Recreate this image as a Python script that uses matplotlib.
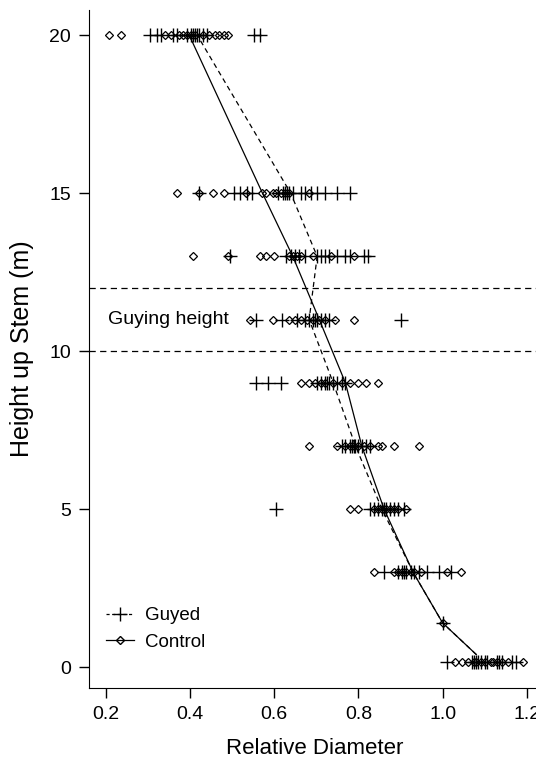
import matplotlib
matplotlib.use("Agg")
import matplotlib.pyplot as plt
from matplotlib.lines import Line2D

plt.rcParams['font.family'] = ['Liberation Sans', 'DejaVu Sans']

# measured heights (m) for the point rows
heights = [0.15, 1.4, 3, 5, 7, 9, 11, 13, 15, 20]

guyed_pts = {
    20: [0.306, 0.321, 0.33, 0.359, 0.369, 0.393, 0.403, 0.407, 0.412, 0.417, 0.422, 0.432, 0.441, 0.552, 0.567],
    15: [0.422, 0.505, 0.518, 0.536, 0.547, 0.61, 0.62, 0.625, 0.63, 0.634, 0.644, 0.663, 0.673, 0.687, 0.702, 0.721, 0.75, 0.779],
    13: [0.494, 0.627, 0.639, 0.649, 0.658, 0.673, 0.702, 0.711, 0.721, 0.731, 0.75, 0.769, 0.779, 0.813, 0.822],
    11: [0.557, 0.618, 0.654, 0.673, 0.683, 0.692, 0.697, 0.702, 0.711, 0.721, 0.731, 0.90],
    9: [0.557, 0.586, 0.615, 0.702, 0.711, 0.721, 0.726, 0.731, 0.74, 0.75, 0.76, 0.769],
    7: [0.76, 0.769, 0.779, 0.784, 0.789, 0.793, 0.798, 0.808, 0.818, 0.827],
    5: [0.605, 0.827, 0.837, 0.847, 0.856, 0.861, 0.866, 0.876, 0.885, 0.895, 0.909],
    3: [0.861, 0.895, 0.904, 0.909, 0.914, 0.924, 0.933, 0.943, 0.962, 0.991, 1.02],
    1.4: [1.0],
    0.15: [1.01, 1.07, 1.075, 1.08, 1.085, 1.09, 1.10, 1.105, 1.13, 1.135, 1.14, 1.165, 1.175],
}
control_pts = {
    20: [0.207, 0.235, 0.34, 0.354, 0.374, 0.383, 0.393, 0.403, 0.412, 0.432, 0.446, 0.46, 0.47, 0.48, 0.49],
    15: [0.369, 0.422, 0.454, 0.48, 0.533, 0.572, 0.581, 0.596, 0.605, 0.615, 0.625, 0.634, 0.683],
    13: [0.407, 0.49, 0.567, 0.581, 0.60, 0.634, 0.644, 0.654, 0.663, 0.692, 0.736, 0.789],
    11: [0.543, 0.596, 0.634, 0.649, 0.663, 0.678, 0.692, 0.707, 0.721, 0.745, 0.789],
    9: [0.663, 0.683, 0.697, 0.711, 0.721, 0.74, 0.76, 0.779, 0.798, 0.818, 0.847],
    7: [0.683, 0.75, 0.769, 0.779, 0.789, 0.798, 0.813, 0.827, 0.847, 0.856, 0.885, 0.943],
    5: [0.779, 0.798, 0.837, 0.847, 0.856, 0.866, 0.876, 0.885, 0.895, 0.914],
    3: [0.837, 0.885, 0.895, 0.904, 0.914, 0.924, 0.933, 0.948, 1.011, 1.044],
    1.4: [1.0],
    0.15: [1.03, 1.045, 1.06, 1.075, 1.08, 1.09, 1.10, 1.115, 1.12, 1.13, 1.14, 1.155, 1.19],
}

# mean profiles drawn as lines
line_h = [0.4, 1.4, 3, 5, 7, 9, 11, 13, 15, 20]
control_line = [1.08, 1.0, 0.93, 0.861, 0.808, 0.769, 0.707, 0.644, 0.572, 0.398]
guyed_line = [1.08, 1.0, 0.93, 0.856, 0.793, 0.74, 0.683, 0.702, 0.639, 0.417]

guy_lo, guy_hi = 10, 12

fig = plt.figure(figsize=(5.36, 7.60), dpi=100)
# the plot region ends just past the right edge of the picture
ax = fig.add_axes([0.166, 0.0947, 0.842, 0.892])

for h in heights:
    g = guyed_pts[h]
    c = control_pts[h]
    ax.plot(c, [h] * len(c), ls='none', marker='D', ms=4.5, mfc='none',
            mec='black', mew=0.9)
    ax.plot(g, [h] * len(g), ls='none', marker='+', ms=10, mec='black', mew=1.0)

ax.plot(control_line, line_h, color='black', lw=0.9)
ax.plot(guyed_line, line_h, color='black', lw=0.9, dashes=(4, 3))

for y in (guy_lo, guy_hi):
    ax.axhline(y, color='black', lw=0.9, dashes=(5, 3.5))
ax.text(0.205, 11, 'Guying height', fontsize=14, va='center', ha='left')

ax.set_xlim(0.160, 1.232)
ax.set_ylim(-0.66, 20.79)
ax.set_xticks([0.2, 0.4, 0.6, 0.8, 1.0, 1.2])
ax.set_xticklabels(['0.2', '0.4', '0.6', '0.8', '1.0', '1.2'])
ax.set_yticks([0, 5, 10, 15, 20])
ax.tick_params(direction='out', length=7, width=1, labelsize=14, pad=6)
ax.spines['top'].set_visible(False)
ax.spines['right'].set_visible(False)
ax.set_xlabel('Relative Diameter', fontsize=16, labelpad=11)
ax.set_ylabel('Height up Stem (m)', fontsize=18, labelpad=11)

handles = [
    Line2D([], [], color='black', lw=0.9, dashes=(2.5, 2), marker='+', ms=10, mew=1.0),
    Line2D([], [], color='black', lw=0.9, marker='D', ms=4.5, mfc='none'),
]
ax.legend(handles, ['Guyed', 'Control'], loc='lower left', bbox_to_anchor=(0.0, 0.03),
          frameon=False, fontsize=13.5, handlelength=1.5, handletextpad=0.6,
          labelspacing=0.5)

fig.savefig('out.png', dpi=100)
